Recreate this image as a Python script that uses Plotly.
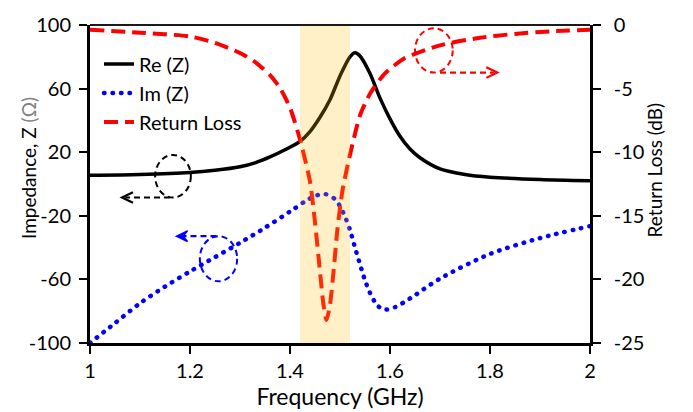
import plotly.graph_objects as go

# Frequency sweep (GHz) and measured quantities
re_freq = [1.00, 1.10, 1.20, 1.25, 1.30, 1.33, 1.36, 1.39, 1.42, 1.44, 1.46, 1.48, 1.50, 1.52, 1.53,
           1.54, 1.56, 1.58, 1.60, 1.62, 1.64, 1.66, 1.70, 1.75, 1.80, 1.90, 2.00]
re_z = [5.5, 6.0, 7.2, 8.6, 10.8, 13.3, 17.0, 21.5, 26.8, 33.0, 42.0, 53.0, 68.0, 80.0, 82.5,
        80.5, 69.5, 54.0, 41.0, 30.0, 22.0, 16.5, 9.5, 6.0, 4.3, 2.8, 2.0]

im_freq = [1.00, 1.05, 1.10, 1.15, 1.20, 1.25, 1.30, 1.35, 1.40, 1.43, 1.45, 1.47, 1.49, 1.50,
           1.51, 1.52, 1.53, 1.54, 1.55, 1.56, 1.575, 1.59, 1.61, 1.64, 1.70, 1.80, 1.90, 2.00]
im_z = [-100.0, -87.5, -75.0, -64.5, -55.0, -46.0, -37.0, -27.5, -17.3, -11.0, -7.5, -6.3, -9.5, -14.0,
        -20.5, -29.0, -40.0, -50.5, -60.5, -68.5, -76.5, -79.0, -77.5, -72.0, -59.5, -44.0, -34.0, -26.5]

rl_freq = [1.00, 1.10, 1.20, 1.25, 1.30, 1.33, 1.36, 1.38, 1.40, 1.42, 1.44, 1.45, 1.46, 1.467,
           1.473, 1.48, 1.487, 1.495, 1.505, 1.52, 1.54, 1.56, 1.59, 1.63, 1.70, 1.78, 1.85, 1.92, 2.00]
rl_db = [-0.38, -0.6, -0.9, -1.4, -2.2, -2.9, -3.94, -4.95, -6.5, -9.0, -12.3, -15.5, -19.4, -22.0,
         -23.2, -22.0, -19.4, -16.0, -13.0, -10.2, -7.1, -5.4, -3.8, -2.6, -1.6, -1.0, -0.7, -0.5, -0.38]

# axis ticks and their printed labels
x_ticks = [1.0, 1.2, 1.4, 1.6, 1.8, 2.0]
x_labels = ["1", "1.2", "1.4", "1.6", "1.8", "2"]
z_ticks = [-100, -60, -20, 20, 60, 100]
z_labels = ["-100", "-60", "-20", "20", "60", "100"]
rl_ticks = [-25, -20, -15, -10, -5, 0]
rl_labels = ["-25", "-20", "-15", "-10", "-5", "0"]

band = [1.42, 1.52]          # highlighted operating band (GHz)
x_range = [1, 2]
z_range = [-100, 100]
rl_range = [-25, 0]

FONT = "Lato"
W, H = 693, 412
M = dict(l=90, r=103, t=15, b=69)
PW = W - M["l"] - M["r"]
PH = H - M["t"] - M["b"]


def px_to_x(dx):
    return dx * (x_range[1] - x_range[0]) / PW


def px_to_y(dy):
    return dy * (z_range[1] - z_range[0]) / PH


fig = go.Figure()
fig.add_trace(go.Scatter(x=re_freq, y=re_z, name="Re (Z)", mode="lines",
                         line=dict(color="black", width=3.5, shape="spline", smoothing=0.8)))
fig.add_trace(go.Scatter(x=im_freq, y=im_z, name="Im (Z)", mode="lines",
                         line=dict(color="#0000FF", width=4.5, dash="0.5px,8px",
                                   shape="spline", smoothing=0.8)))
fig.add_trace(go.Scatter(x=rl_freq, y=rl_db, name="Return Loss", mode="lines", yaxis="y2",
                         line=dict(color="#FF0000", width=4, dash="14px,7px",
                                   shape="spline", smoothing=0.6)))

shapes = []
# translucent band laid over the curves
shapes.append(dict(type="rect", xref="x", yref="y", x0=band[0], x1=band[1],
                   y0=z_range[0], y1=z_range[1], layer="above", line_width=0,
                   fillcolor="rgba(255,190,16,0.23)"))
# top frame line
shapes.append(dict(type="line", xref="paper", yref="paper", x0=0, x1=1, y0=1, y1=1,
                   line=dict(color="#1a1a1a", width=2)))

# curve markers: ellipse (centre f, centre Z, half-width GHz, half-height Ohm), arrow y, arrow tip x
markers = [
    dict(color="black", cx=1.166, cy=4.9, hx=0.0357, hy=13.4, ay=-8.5, ax0=1.16, ax1=1.064,
         head="open"),
    dict(color="#0000FF", cx=1.257, cy=-47.0, hx=0.0373, hy=14.2, ay=-32.8, ax0=1.253, ax1=1.173,
         head="filled"),
    dict(color="#FF0000", cx=1.6877, cy=84.0, hx=0.0377, hy=13.9, ay=70.1, ax0=1.70, ax1=1.8146,
         head="open"),
]
for m in markers:
    shapes.append(dict(type="circle", xref="x", yref="y",
                       x0=m["cx"] - m["hx"], x1=m["cx"] + m["hx"],
                       y0=m["cy"] - m["hy"], y1=m["cy"] + m["hy"],
                       line=dict(color=m["color"], width=2, dash="6px,4px")))
    direction = 1 if m["ax1"] > m["ax0"] else -1
    hl = px_to_x(11) * direction
    hw = px_to_y(5.5)
    shapes.append(dict(type="line", xref="x", yref="y", x0=m["ax0"], x1=m["ax1"] - hl * 0.3,
                       y0=m["ay"], y1=m["ay"],
                       line=dict(color=m["color"], width=2.2, dash="6px,4px")))
    tip_x, tip_y = m["ax1"], m["ay"]
    if m["head"] == "open":
        path = (f"M{tip_x - hl},{tip_y + hw} L{tip_x},{tip_y} L{tip_x - hl},{tip_y - hw}")
        shapes.append(dict(type="path", xref="x", yref="y", path=path,
                           line=dict(color=m["color"], width=2.2)))
    else:
        path = (f"M{tip_x - hl},{tip_y + hw} L{tip_x},{tip_y} L{tip_x - hl},{tip_y - hw} "
                f"L{tip_x - hl * 0.6},{tip_y} Z")
        shapes.append(dict(type="path", xref="x", yref="y", path=path,
                           fillcolor=m["color"], line=dict(color=m["color"], width=1.5)))

tick_font = dict(family=FONT, size=20, color="black")
vtitle_font = dict(family=FONT, size=19, color="black")
xtitle_font = dict(family=FONT, size=23, color="black")

# vertical axis titles placed as rotated annotations
annotations = [
    dict(text="Impedance, Z <span style='color:#808080'>(Ω)</span>", textangle=-90,
         xref="paper", yref="paper", x=(28 - M["l"]) / PW, y=1 - (162.5 - M["t"]) / PH,
         xanchor="center", yanchor="middle", showarrow=False, font=vtitle_font),
    dict(text="Return Loss (dB)", textangle=-90,
         xref="paper", yref="paper", x=(654 - M["l"]) / PW, y=1 - (165 - M["t"]) / PH,
         xanchor="center", yanchor="middle", showarrow=False, font=vtitle_font),
]

fig.update_layout(
    width=W, height=H, margin=M,
    paper_bgcolor="white", plot_bgcolor="white",
    font=dict(family=FONT, color="black"),
    shapes=shapes,
    annotations=annotations,
    showlegend=True,
    legend=dict(x=0.018, y=0.939, xanchor="left", yanchor="top",
                bgcolor="rgba(0,0,0,0)", font=dict(family=FONT, size=20, color="black"),
                tracegroupgap=0),
    xaxis=dict(range=x_range, tickvals=x_ticks, ticktext=x_labels,
               showgrid=False, zeroline=False,
               showline=True, linecolor="black", linewidth=3,
               ticks="outside", ticklen=8, tickwidth=2, tickcolor="black",
               tickfont=tick_font,
               title=dict(text="Frequency (GHz)", font=xtitle_font, standoff=0)),
    yaxis=dict(range=z_range, tickvals=z_ticks, ticktext=z_labels,
               showgrid=False, zeroline=False,
               showline=True, linecolor="black", linewidth=3,
               ticks="outside", ticklen=8, tickwidth=2, tickcolor="black",
               tickfont=tick_font, ticklabelstandoff=4),
    yaxis2=dict(range=rl_range, tickvals=rl_ticks, ticktext=rl_labels,
                overlaying="y", side="right",
                showgrid=False, zeroline=False,
                showline=True, linecolor="black", linewidth=2.5,
                ticks="outside", ticklen=8, tickwidth=2, tickcolor="black",
                tickfont=tick_font, ticklabelstandoff=9),
)

# round the dash caps of the dotted Im (Z) line so each dash renders as a dot
round_dots = """
(function () {
  function roundCaps() {
    document.querySelectorAll('path.js-line').forEach(function (p) {
      if ((p.style.strokeDasharray || '').indexOf('0.5px') === 0) {
        p.style.strokeLinecap = 'round';
      }
    });
  }
  roundCaps();
  var gd = document.getElementById('{plot_id}');
  if (gd && gd.on) { gd.on('plotly_afterplot', roundCaps); }
})();
"""

fig.write_html("out.html", post_script=round_dots)
